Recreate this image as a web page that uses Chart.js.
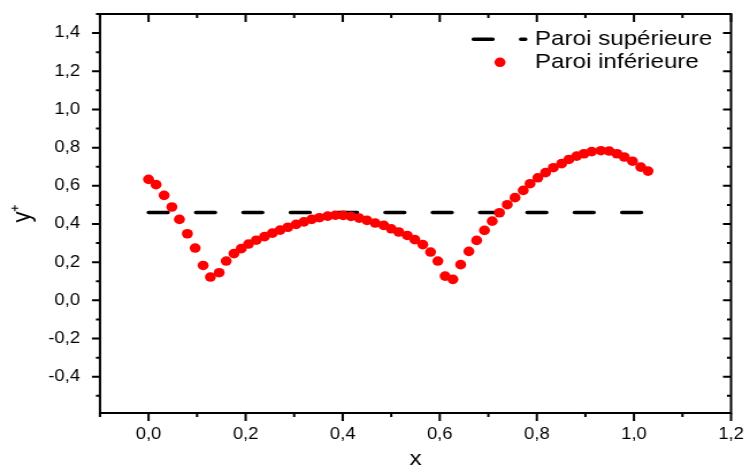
<!DOCTYPE html>
<html><head><meta charset="utf-8">
<script src="https://cdn.jsdelivr.net/npm/chart.js@4.4.1/dist/chart.umd.min.js"></script>
<style>
html,body{margin:0;padding:0;background:#fff;overflow:hidden;width:750px;height:473px}
#c{display:block;transform:scaleX(1.1503);transform-origin:0 0}
</style></head><body>
<canvas id="c" width="652" height="473"></canvas>
<script>
// ---- data ----
const seriesNames = ['Paroi supérieure', 'Paroi inférieure'];
const xUpper = [0, 1.02];
const yUpper = [0.46, 0.46];
const xLower = [0.000,0.0155,0.032,0.048,0.0636,0.080,0.096,0.1125,0.1275,0.1455,0.160,0.176,0.191,0.206,0.222,0.239,0.255,0.271,0.287,0.304,0.320,0.336,0.352,0.369,0.385,0.401,0.417,0.434,0.450,0.467,0.4845,0.500,0.5155,0.533,0.5485,0.565,0.581,0.596,0.611,0.627,0.643,0.660,0.676,0.692,0.708,0.723,0.739,0.755,0.772,0.786,0.802,0.818,0.834,0.851,0.866,0.882,0.897,0.913,0.932,0.949,0.965,0.980,0.997,1.014,1.029];
const yLower = [0.634,0.606,0.550,0.489,0.424,0.349,0.274,0.183,0.122,0.145,0.206,0.245,0.271,0.295,0.315,0.334,0.352,0.368,0.383,0.398,0.411,0.424,0.433,0.441,0.446,0.445,0.440,0.431,0.419,0.405,0.393,0.375,0.358,0.340,0.318,0.292,0.253,0.206,0.127,0.110,0.187,0.2565,0.314,0.3665,0.415,0.459,0.501,0.538,0.576,0.611,0.642,0.669,0.695,0.716,0.738,0.7555,0.768,0.779,0.784,0.782,0.768,0.751,0.729,0.698,0.677];
const xTicks = [0, 0.2, 0.4, 0.6, 0.8, 1.0, 1.2];
const xTickLabels = ['0,0','0,2','0,4','0,6','0,8','1,0','1,2'];
const xMinorTicks = [-0.1, 0.1, 0.3, 0.5, 0.7, 0.9, 1.1];
const yTicks = [-0.4, -0.2, 0, 0.2, 0.4, 0.6, 0.8, 1.0, 1.2, 1.4];
const yTickLabels = ['-0,4','-0,2','0,0','0,2','0,4','0,6','0,8','1,0','1,2','1,4'];
const yMinorTicks = [-0.5, -0.3, -0.1, 0.1, 0.3, 0.5, 0.7, 0.9, 1.1, 1.3, 1.5];
const xTitle = 'x';
const yTitle = 'y\u207A';

// ---- styling ----
const S = 750 / 652;           // horizontal stretch of the reference
const FONT = "'Liberation Sans', Arial, sans-serif";
const RED = '#ff0000';

const toPts = (xs, ys) => xs.map((v, i) => ({x: v, y: ys[i]}));
const noPad = s => { s.paddingLeft = 0; s.paddingRight = 0; s.paddingTop = 0; s.paddingBottom = 0; };

const frameTicks = {
  id: 'frameTicks',
  afterDatasetsDraw(chart) {
    const {ctx, chartArea: a, scales: {x, y}} = chart;
    ctx.save();
    ctx.strokeStyle = '#000';
    ctx.lineWidth = 2;
    ctx.lineCap = 'butt';
    ctx.strokeRect(a.left, a.top, a.right - a.left, a.bottom - a.top);
    ctx.beginPath();
    const xt = (v, L) => {
      const p = x.getPixelForValue(v);
      ctx.moveTo(p, a.bottom); ctx.lineTo(p, a.bottom + L);
      ctx.moveTo(p, a.top); ctx.lineTo(p, a.top + L);
    };
    const yt = (v, L) => {
      const p = y.getPixelForValue(v);
      ctx.moveTo(a.left - L, p); ctx.lineTo(a.left, p);
      ctx.moveTo(a.right - L, p); ctx.lineTo(a.right, p);
    };
    xTicks.forEach(v => xt(v, 8));
    xMinorTicks.forEach(v => xt(v, 4));
    yTicks.forEach(v => yt(v, 7));
    yMinorTicks.forEach(v => yt(v, 3.5));
    ctx.stroke();
    ctx.restore();
  }
};

const legendBox = {
  id: 'legendBox',
  afterDraw(chart) {
    const {ctx} = chart;
    const ds = chart.data.datasets;
    ctx.save();
    ctx.font = '21px ' + FONT;
    ctx.fillStyle = '#000';
    ctx.textBaseline = 'middle';
    ctx.textAlign = 'left';
    const tx = 535 / S;
    const y1 = 39.3;
    ctx.strokeStyle = ds[0].borderColor;
    ctx.lineWidth = ds[0].borderWidth;
    ctx.lineCap = 'round';
    ctx.setLineDash(ds[0].borderDash);
    ctx.beginPath();
    ctx.moveTo(473.5 / S, y1);
    ctx.lineTo(525.5 / S, y1);
    ctx.stroke();
    ctx.setLineDash([]);
    ctx.fillText(ds[0].label, tx, y1);
    const y2 = 62.3;
    ctx.fillStyle = RED;
    ctx.beginPath();
    ctx.arc(500 / S, y2, ds[1].pointRadius, 0, Math.PI * 2);
    ctx.fill();
    ctx.fillStyle = '#000';
    ctx.fillText(ds[1].label, tx, y2);
    ctx.restore();
  }
};

new Chart(document.getElementById('c'), {
  type: 'scatter',
  data: {
    datasets: [
      {
        type: 'line',
        label: seriesNames[0],
        data: toPts(xUpper, yUpper),
        borderColor: '#000',
        borderWidth: 3.5,
        borderDash: [16.8, 24.35],
        borderCapStyle: 'round',
        pointRadius: 0,
        fill: false,
        order: 2
      },
      {
        label: seriesNames[1],
        data: toPts(xLower, yLower),
        backgroundColor: RED,
        borderWidth: 0,
        pointRadius: 4.8,
        pointHoverRadius: 4.8,
        order: 1
      }
    ]
  },
  options: {
    responsive: false,
    animation: false,
    devicePixelRatio: 1,
    layout: {padding: {left: 0, right: 16.5, top: 14, bottom: 0}},
    plugins: {legend: {display: false}, tooltip: {enabled: false}},
    scales: {
      x: {
        type: 'linear', min: -0.1, max: 1.2,
        afterBuildTicks: s => { s.ticks = xTicks.map(v => ({value: v})); },
        afterFit: s => { s.height = 60; noPad(s); },
        grid: {display: false, drawTicks: false},
        border: {display: false},
        ticks: {
          padding: 12.4, color: '#000', maxRotation: 0, autoSkip: false,
          font: {family: FONT, size: 16},
          callback: (v, i) => xTickLabels[i]
        },
        title: {display: true, text: xTitle, color: '#000',
          font: {family: FONT, size: 21}, padding: {top: 0, bottom: 1}}
      },
      y: {
        type: 'linear', min: -0.59, max: 1.5,
        afterBuildTicks: s => { s.ticks = yTicks.map(v => ({value: v})); },
        afterFit: s => { s.width = 100 / S; noPad(s); },
        grid: {display: false, drawTicks: false},
        border: {display: false},
        ticks: {
          padding: 17.4, color: '#000', autoSkip: false,
          font: {family: FONT, size: 16},
          callback: (v, i) => yTickLabels[i]
        },
        title: {display: true, text: yTitle, color: '#000',
          font: {family: FONT, size: 22}, padding: {top: 7, bottom: 0}}
      }
    }
  },
  plugins: [frameTicks, legendBox]
});
</script>
</body></html>
